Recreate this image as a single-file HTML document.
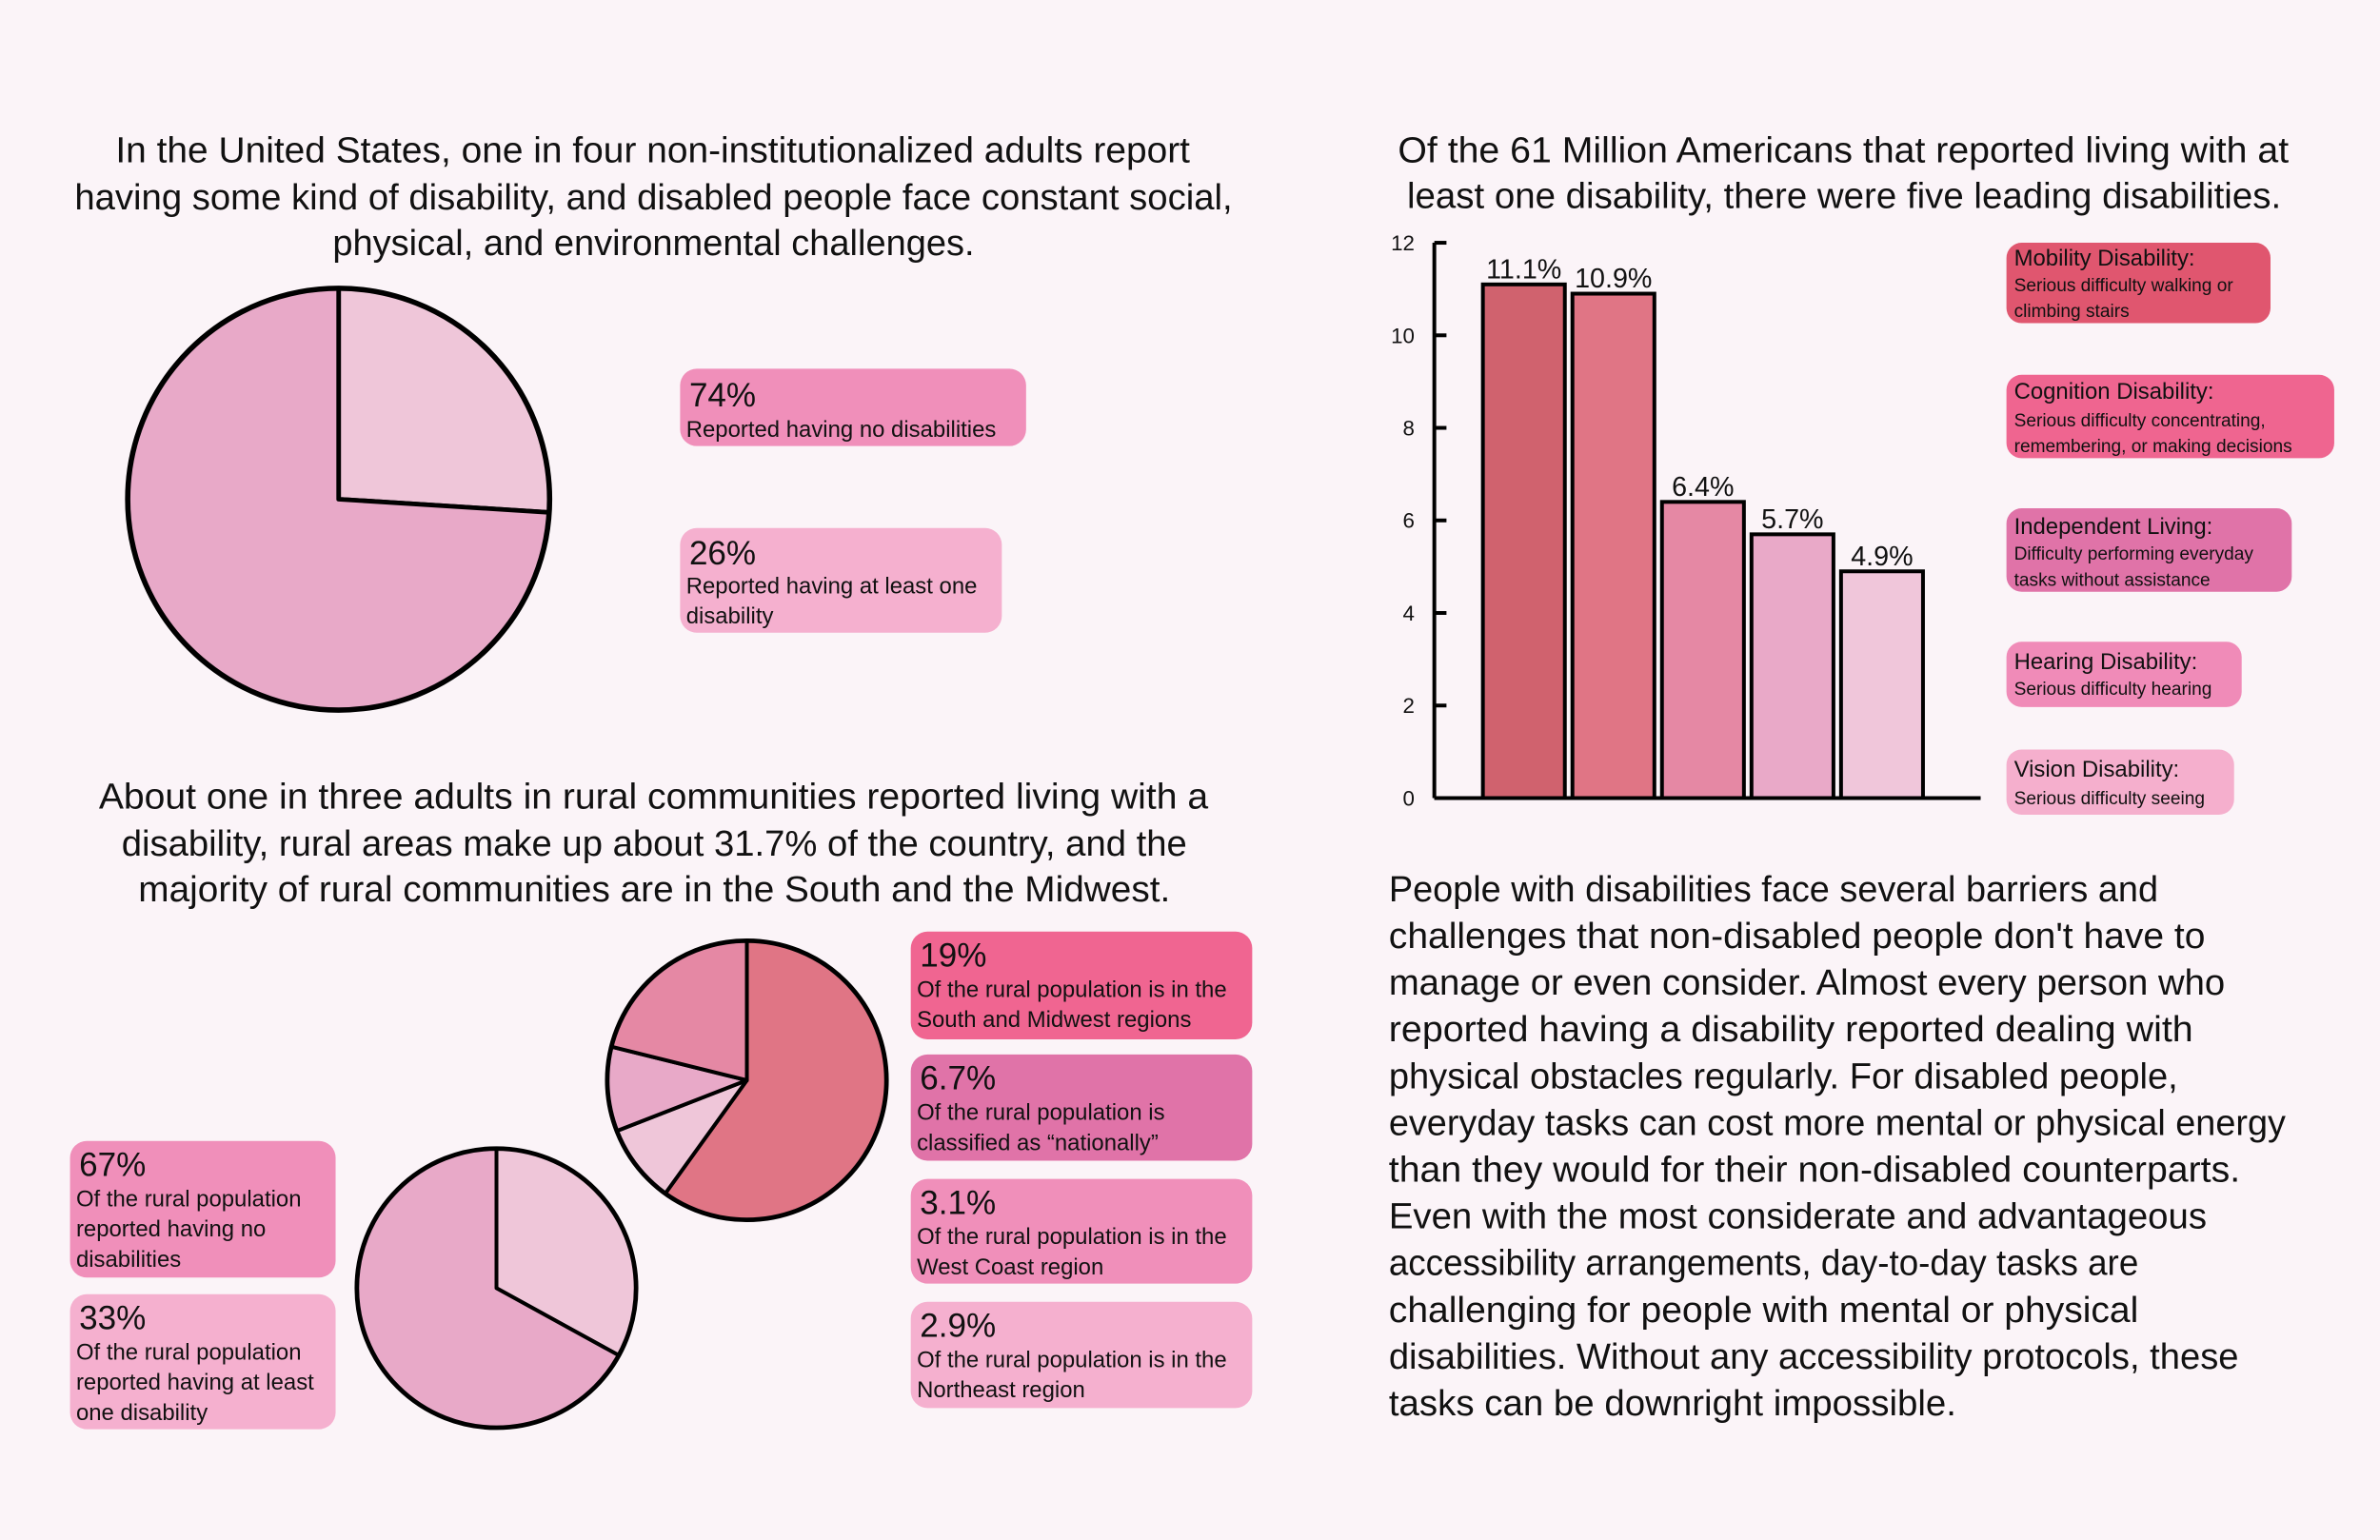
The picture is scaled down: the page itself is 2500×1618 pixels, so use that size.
<!DOCTYPE html>
<html><head><meta charset="utf-8"><style>
html,body{margin:0;padding:0;background:#fbf4f8;}
svg{display:block;font-family:"Liberation Sans",sans-serif;}
</style></head><body>
<svg id="root" width="2500" height="1618" viewBox="0 0 1568 1015">
<rect x="0" y="0" width="1568" height="1015" fill="#fbf4f8"/>
<g id="static" fill="#111"></g>
<g id="pie1"></g>
<g id="pie2"></g>
<g id="pie3"></g>
<g id="bars"></g>
</svg>
<script>
// ---- chart data ----
const pie1Values = [26, 74];
const pie1Colors = ['#efc6d9', '#e8a9c8'];
const pie2Values = [19, 2.9, 3.1, 6.7];
const pie2Colors = ['#e07585', '#efc6d9', '#e8a9c8', '#e588a4'];
const pie3Values = [33, 67];
const pie3Colors = ['#efc6d9', '#e8a9c8'];
const barCategories = ['Mobility', 'Cognition', 'Independent Living', 'Hearing', 'Vision'];
const barValues = [11.1, 10.9, 6.4, 5.7, 4.9];
const barLabels = ['11.1%', '10.9%', '6.4%', '5.7%', '4.9%'];
const barColors = ['#d0626e', '#e07585', '#e588a4', '#e9a9c8', '#f0c6da'];
const yTicks = [0, 2, 4, 6, 8, 10, 12];

const NS = 'http://www.w3.org/2000/svg';
function mk(tag, attrs, parent) {
  const e = document.createElementNS(NS, tag);
  for (const k in attrs) e.setAttribute(k, attrs[k]);
  parent.appendChild(e);
  return e;
}
function txt(parent, x, y, size, s, len, anchor) {
  const a = {x: x, y: y, 'font-size': size, fill: '#111'};
  if (anchor) a['text-anchor'] = anchor;
  if (len) { a.textLength = len; a.lengthAdjust = 'spacingAndGlyphs'; }
  const t = mk('text', a, parent);
  t.textContent = s;
  return t;
}
const S = document.getElementById('static');

// headings
const headings = [
  [[76,107,784,'In the United States, one in four non-institutionalized adults report'],
   [49,138,812,'having some kind of disability, and disabled people face constant social,'],
   [219,168,642,'physical, and environmental challenges.']],
  [[65,533,796,'About one in three adults in rural communities reported living with a'],
   [80,564,782,'disability, rural areas make up about 31.7% of the country, and the'],
   [91,594,771,'majority of rural communities are in the South and the Midwest.']],
  [[921,107,1508,'Of the 61 Million Americans that reported living with at'],
   [927,137,1503,'least one disability, there were five leading disabilities.']]
];
const hnames = ['national-heading','rural-heading','bar-chart-title'];
headings.forEach((h, i) => {
  const g = mk('g', {}, S);
  
  
  h.forEach(l => txt(g, l[0], l[1], 24, l[3], l[2]-l[0]));
});

// paragraph
const para = [
  ['People with disabilities face several barriers and',1422],
  ['challenges that non-disabled people don\'t have to',1453],
  ['manage or even consider. Almost every person who',1466],
  ['reported having a disability reported dealing with',1445],
  ['physical obstacles regularly. For disabled people,',1435],
  ['everyday tasks can cost more mental or physical energy',1506],
  ['than they would for their non-disabled counterparts.',1476],
  ['Even with the most considerate and advantageous',1454],
  ['accessibility arrangements, day-to-day tasks are',1409],
  ['challenging for people with mental or physical',1409],
  ['disabilities. Without any accessibility protocols, these',1475],
  ['tasks can be downright impossible.',1289]
];
const pg = mk('g', {}, S);


para.forEach((l, i) => txt(pg, 915, 594 + i*30.8, 24, l[0], l[1]-915));

// info boxes: [x,y,w,h,color,name,big,lines]
const boxes = [
  [448,243,228,51,'#f08fba','no-disability-label','74%',['Reported having no disabilities'],268,288],
  [448,348,212,69,'#f5b0cf','has-disability-label','26%',['Reported having at least  one','disability'],372,391],
  [600,614,225,71,'#f06591','south-midwest-label','19%',['Of the rural population is in the','South and Midwest regions'],637,657],
  [600,695,225,70,'#e073a8','nationally-label','6.7%',['Of the rural population is','classified as \u201cnationally\u201d'],718,738],
  [600,777,225,69,'#f08fba','west-coast-label','3.1%',['Of the rural population is in the','West Coast region'],800,820],
  [600,858,225,70,'#f5b0cf','northeast-label','2.9%',['Of the rural population is in the','Northeast region'],881,901],
  [46,752,175,90,'#f08fba','rural-no-disability-label','67%',['Of the rural population','reported having no','disabilities'],775,795],
  [46,853,175,89,'#f5b0cf','rural-has-disability-label','33%',['Of the rural population','reported having at least','one disability'],876,896]
];
boxes.forEach(b => {
  const g = mk('g', {}, S);
  
  
  mk('rect', {x:b[0], y:b[1], width:b[2], height:b[3], rx:11, fill:b[4]}, g);
  txt(g, b[0]+6, b[8], 22, b[6]);
  b[7].forEach((l, i) => txt(g, b[0]+4, b[9] + i*20, 15, l));
});

// legend boxes
const legend = [
  [1322,160,174,53,'#e0566f','legend-mobility','Mobility Disability:',['Serious difficulty walking or','climbing stairs'],175,192],
  [1322,247,216,55,'#ef6590','legend-cognition','Cognition Disability:',['Serious difficulty concentrating,','remembering, or making decisions'],263,281],
  [1322,335,188,55,'#e073a8','legend-independent-living','Independent Living:',['Difficulty performing everyday','tasks without assistance'],352,369],
  [1322,423,155,43,'#f08bb8','legend-hearing','Hearing Disability:',['Serious difficulty hearing'],441,458],
  [1322,494,150,43,'#f5afcd','legend-vision','Vision Disability:',['Serious difficulty seeing'],512,530]
];
legend.forEach(b => {
  const g = mk('g', {}, S);
  
  
  mk('rect', {x:b[0], y:b[1], width:b[2], height:b[3], rx:10, fill:b[4]}, g);
  txt(g, b[0]+5, b[8], 15, b[6]);
  b[7].forEach((l, i) => txt(g, b[0]+5, b[9] + i*17, 12, l, null));
});

// pies
function pie(id, cx, cy, r, vals, cols, sw) {
  const g = document.getElementById(id);
  const tot = vals.reduce((a, b) => a + b, 0);
  let acc = 0;
  const pt = f => [cx + r*Math.sin(f*2*Math.PI), cy - r*Math.cos(f*2*Math.PI)];
  vals.forEach((v, i) => {
    const f0 = acc / tot, f1 = (acc + v) / tot;
    acc += v;
    const p0 = pt(f0), p1 = pt(f1);
    const large = (f1 - f0) > 0.5 ? 1 : 0;
    const p = mk('path', {d:`M${cx},${cy} L${p0[0]},${p0[1]} A${r},${r} 0 ${large} 1 ${p1[0]},${p1[1]} Z`,
      fill:cols[i], stroke:'#000', 'stroke-width':sw, 'stroke-linejoin':'round'}, g);
    
    
  });
  mk('circle', {cx:cx, cy:cy, r:r, fill:'none', stroke:'#000', 'stroke-width':sw+0.5}, g);
}
pie('pie1', 223, 329, 139, pie1Values, pie1Colors, 3);
pie('pie2', 492, 712, 92, pie2Values, pie2Colors, 2.5);
pie('pie3', 327, 849, 92, pie3Values, pie3Colors, 2.5);

// bar chart
const B = document.getElementById('bars');
const axX = 945, y0 = 526, yTop = 160, yMax = 12;
const yS = v => y0 - (y0 - yTop) * v / yMax;
const bx0 = 977, bw = 54, step = 59;
const xS = i => bx0 + i*step;
yTicks.forEach(t => {
  const tk = mk('line', {x1:axX, x2:axX+8, y1:yS(t), y2:yS(t), stroke:'#000', 'stroke-width':2.5}, B);
  
  
  const lb = txt(B, 932, yS(t)+5, 14, String(t), null, 'end');
  
  
});
barValues.forEach((v, i) => {
  const r = mk('rect', {x:xS(i), y:yS(v), width:bw, height:y0 - yS(v), fill:barColors[i], stroke:'#000', 'stroke-width':2.5}, B);
  
  
  const t = txt(B, xS(i) + bw/2, yS(v) - 4, 18, barLabels[i], null, 'middle');
  
  
});
const ya = mk('line', {x1:axX, x2:axX, y1:yTop, y2:y0, stroke:'#000', 'stroke-width':2.5}, B);


const xa = mk('line', {x1:axX, x2:1305, y1:y0, y2:y0, stroke:'#000', 'stroke-width':2.5}, B);


</script>
</body></html>
